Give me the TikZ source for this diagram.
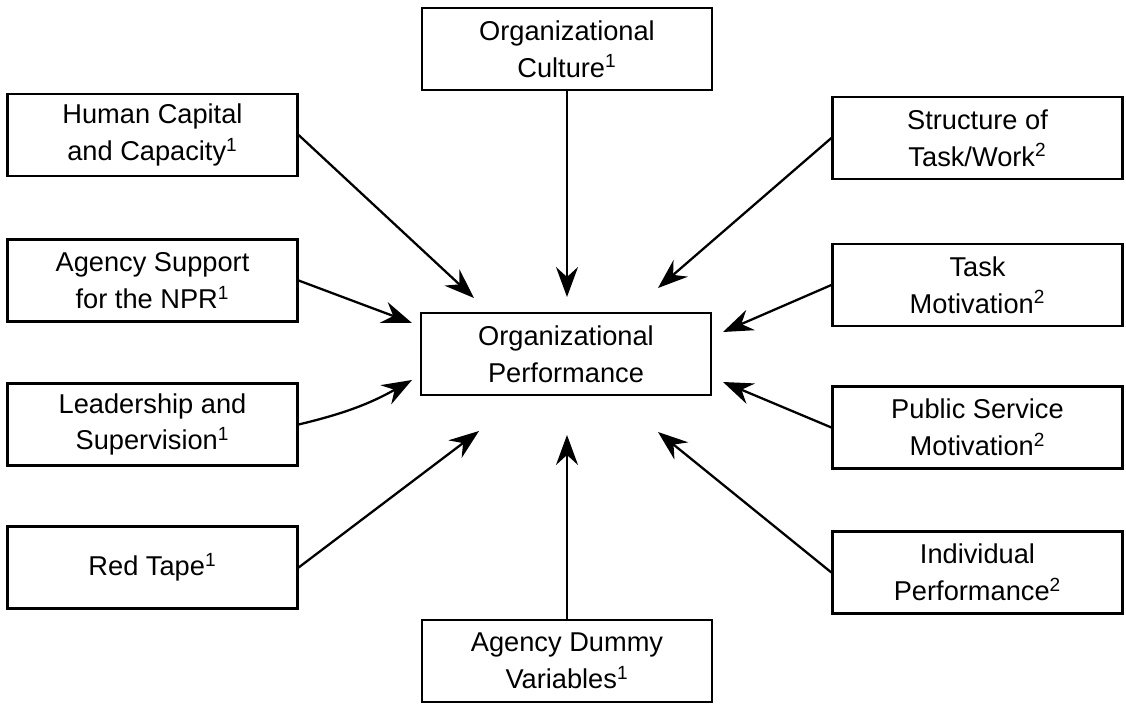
\documentclass[tikz,border=0pt]{standalone}
\usepackage{fontspec}
\setmainfont{Liberation Sans}
\usetikzlibrary{arrows.meta}
\tikzset{factor/.style={draw, line width=1.3pt, minimum width=5.8cm, minimum height=1.64cm, align=center, font=\fontsize{15.5}{21}\selectfont}}
\tikzset{effect/.style={-{Stealth[length=6mm, width=4.4mm, inset=2mm]}, line width=1.3pt}}
\begin{document}
\begin{tikzpicture}[x=0.02cm, y=-0.02cm]
            \useasboundingbox (0, 0) rectangle (1126, 705);
            \node[factor] (perf) at (566, 354) {Organizational\\Performance};
            \node[factor] (culture) at (567, 49) {Organizational\\Culture\textsuperscript{1}};
            \node[factor] (dummy) at (567, 661) {Agency Dummy\\Variables\textsuperscript{1}};
            \node[factor] (human) at (152.5, 135) {Human Capital\\and Capacity\textsuperscript{1}};
            \node[factor] (support) at (152.5, 280.5) {Agency Support\\for the NPR\textsuperscript{1}};
            \node[factor] (leader) at (152.5, 424.5) {Leadership and\\Supervision\textsuperscript{1}};
            \node[factor] (redtape) at (152.5, 567.5) {Red Tape\textsuperscript{1}};
            \node[factor] (structure) at (977.5, 138) {Structure of\\Task/Work\textsuperscript{2}};
            \node[factor] (taskmot) at (977.5, 285) {Task\\Motivation\textsuperscript{2}};
            \node[factor] (psm) at (977.5, 427.5) {Public Service\\Motivation\textsuperscript{2}};
            \node[factor] (indiv) at (977.5, 572.5) {Individual\\Performance\textsuperscript{2}};
            % arrow tips around the performance box
            \coordinate (tculture) at (567, 297);
            \coordinate (tdummy) at (567, 435);
            \coordinate (thuman) at (474, 298);
            \coordinate (tsupport) at (412, 323);
            \coordinate (tleader) at (412, 380);
            \coordinate (tredtape) at (479, 431);
            \coordinate (tstructure) at (658, 288);
            \coordinate (ttaskmot) at (723, 332);
            \coordinate (tpsm) at (723, 382);
            \coordinate (tindiv) at (658, 432);
            \draw[effect] (culture.south) -- (tculture);
            \draw[effect] (dummy.north) -- (tdummy);
            \draw[effect] (human.east) -- (thuman);
            \draw[effect] (support.east) -- (tsupport);
            \draw[effect] (leader.east) to[bend right=8] (tleader);
            \draw[effect] (redtape.east) -- (tredtape);
            \draw[effect] (structure.west) -- (tstructure);
            \draw[effect] (taskmot.west) -- (ttaskmot);
            \draw[effect] (psm.west) -- (tpsm);
            \draw[effect] (indiv.west) -- (tindiv);
        \end{tikzpicture}
\end{document}
